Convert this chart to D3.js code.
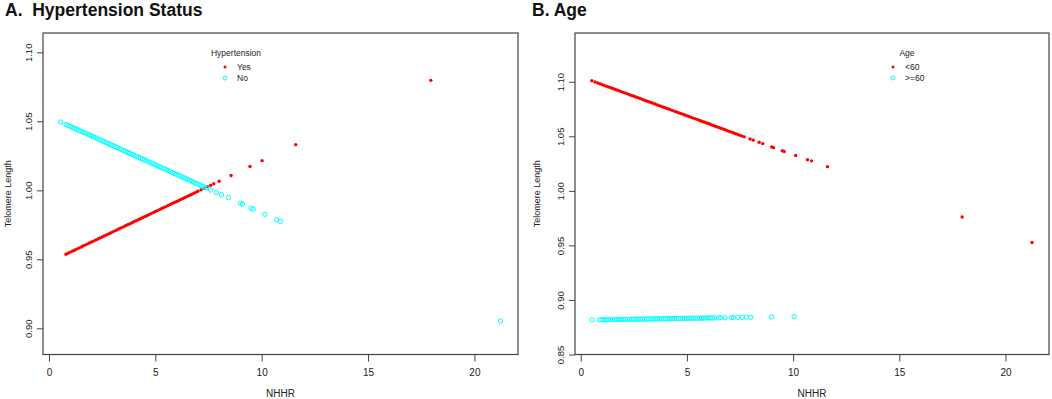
<!DOCTYPE html>
<html><head><meta charset="utf-8">
<script src="https://cdn.jsdelivr.net/npm/d3@7"></script>
<style>
html,body{margin:0;padding:0;background:#fff;}
svg{display:block;font-family:"Liberation Sans",Arial,sans-serif;}
</style></head>
<body>
<svg id="c" width="1052" height="399"></svg>
<script>
// ---------- DATA ----------
const xTicks = [0, 5, 10, 15, 20];
const yTicksA = [0.90, 0.95, 1.00, 1.05, 1.10];
const yTicksB = [0.85, 0.90, 0.95, 1.00, 1.05, 1.10];

// Panel A: Hypertension = Yes
const yesX = [0.8,0.9,1.0,1.1,1.2,1.3,1.4,1.5,1.6,1.7,1.8,1.9,2.0,2.1,2.2,2.3,2.4,2.5,2.6,2.7,2.8,2.9,3.0,3.1,3.2,3.3,3.4,3.5,3.6,3.7,3.8,3.9,4.0,4.1,4.2,4.3,4.4,4.5,4.6,4.7,4.8,4.9,5.0,5.1,5.2,5.3,5.4,5.5,5.6,5.7,5.8,5.9,6.0,6.1,6.2,6.3,6.4,6.5,6.6,6.7,6.8,6.9,7.0,7.15,7.3,7.45,7.6,7.75,8.0,8.56,9.45,10.02,11.6,17.95];
const yesY = [0.9537,0.9544,0.9552,0.9559,0.9566,0.9574,0.9581,0.9588,0.9596,0.9603,0.9610,0.9618,0.9625,0.9632,0.9640,0.9647,0.9654,0.9662,0.9669,0.9676,0.9684,0.9691,0.9699,0.9706,0.9713,0.9721,0.9728,0.9735,0.9743,0.9750,0.9757,0.9765,0.9772,0.9779,0.9787,0.9794,0.9801,0.9809,0.9816,0.9823,0.9831,0.9838,0.9846,0.9853,0.9860,0.9868,0.9875,0.9882,0.9890,0.9897,0.9904,0.9912,0.9919,0.9926,0.9934,0.9941,0.9948,0.9956,0.9963,0.9970,0.9978,0.9985,0.9993,1.0004,1.0015,1.0026,1.0037,1.0048,1.0066,1.0107,1.0173,1.0215,1.0331,1.0797];

// Panel A: Hypertension = No
const noX = [0.55,0.8,0.9,1.0,1.1,1.2,1.3,1.4,1.5,1.6,1.7,1.8,1.9,2.0,2.1,2.2,2.3,2.4,2.5,2.6,2.7,2.8,2.9,3.0,3.1,3.2,3.3,3.4,3.5,3.6,3.7,3.8,3.9,4.0,4.1,4.2,4.3,4.4,4.5,4.6,4.7,4.8,4.9,5.0,5.1,5.2,5.3,5.4,5.5,5.6,5.7,5.8,5.9,6.0,6.1,6.2,6.3,6.4,6.5,6.6,6.7,6.8,6.9,7.0,7.1,7.2,7.3,7.4,7.6,7.87,8.11,8.44,9.0,9.1,9.5,9.6,10.15,10.7,10.88,21.23];
const noY = [1.0495,1.0477,1.0470,1.0463,1.0456,1.0449,1.0442,1.0435,1.0428,1.0421,1.0415,1.0408,1.0401,1.0394,1.0387,1.0380,1.0373,1.0366,1.0359,1.0352,1.0345,1.0338,1.0331,1.0324,1.0317,1.0310,1.0303,1.0296,1.0289,1.0282,1.0275,1.0268,1.0261,1.0254,1.0247,1.0240,1.0233,1.0226,1.0219,1.0212,1.0205,1.0198,1.0191,1.0185,1.0178,1.0171,1.0164,1.0157,1.0150,1.0143,1.0136,1.0129,1.0122,1.0115,1.0108,1.0101,1.0094,1.0087,1.0080,1.0073,1.0066,1.0059,1.0052,1.0045,1.0038,1.0031,1.0024,1.0017,1.0003,0.9984,0.9968,0.9948,0.9906,0.9899,0.9871,0.9864,0.9826,0.9787,0.9775,0.9053];

// Panel B: Age < 60
const youngX = [0.52,0.67,0.8,0.9,1.0,1.1,1.2,1.3,1.4,1.5,1.6,1.7,1.8,1.9,2.0,2.1,2.2,2.3,2.4,2.5,2.6,2.7,2.8,2.9,3.0,3.1,3.2,3.3,3.4,3.5,3.6,3.7,3.8,3.9,4.0,4.1,4.2,4.3,4.4,4.5,4.6,4.7,4.8,4.9,5.0,5.1,5.2,5.3,5.4,5.5,5.6,5.7,5.8,5.9,6.0,6.1,6.2,6.3,6.4,6.5,6.6,6.7,6.8,6.9,7.0,7.1,7.2,7.3,7.4,7.5,7.6,7.7,7.97,8.12,8.4,8.57,8.99,9.08,9.49,9.58,10.12,10.68,10.87,11.62,17.96,21.25];
const youngY = [1.1009,1.0998,1.0989,1.0982,1.0974,1.0967,1.0960,1.0953,1.0946,1.0939,1.0932,1.0924,1.0917,1.0910,1.0903,1.0896,1.0889,1.0881,1.0874,1.0867,1.0860,1.0853,1.0846,1.0839,1.0831,1.0824,1.0817,1.0810,1.0803,1.0796,1.0788,1.0781,1.0774,1.0767,1.0760,1.0753,1.0746,1.0738,1.0731,1.0724,1.0717,1.0710,1.0703,1.0695,1.0688,1.0681,1.0674,1.0667,1.0660,1.0653,1.0645,1.0638,1.0631,1.0624,1.0617,1.0610,1.0602,1.0595,1.0588,1.0581,1.0574,1.0567,1.0560,1.0552,1.0545,1.0538,1.0531,1.0524,1.0517,1.0509,1.0502,1.0495,1.0476,1.0465,1.0445,1.0433,1.0403,1.0396,1.0367,1.0361,1.0325,1.0285,1.0275,1.0222,0.9761,0.9526];

// Panel B: Age >= 60
const oldX = [0.53,0.9,1.0,1.1,1.2,1.3,1.4,1.5,1.6,1.7,1.8,1.9,2.0,2.1,2.2,2.3,2.4,2.5,2.6,2.7,2.8,2.9,3.0,3.1,3.2,3.3,3.4,3.5,3.6,3.7,3.8,3.9,4.0,4.1,4.2,4.3,4.4,4.5,4.6,4.7,4.8,4.9,5.0,5.1,5.2,5.3,5.4,5.5,5.6,5.7,5.8,5.9,6.0,6.1,6.2,6.3,6.5,6.6,6.8,7.1,7.2,7.4,7.6,7.8,8.0,8.99,10.05];
const oldY = [0.8817,0.8818,0.8818,0.8819,0.8819,0.8819,0.8820,0.8820,0.8820,0.8821,0.8821,0.8821,0.8822,0.8822,0.8822,0.8823,0.8823,0.8823,0.8824,0.8824,0.8824,0.8825,0.8825,0.8825,0.8826,0.8826,0.8826,0.8827,0.8827,0.8827,0.8828,0.8828,0.8828,0.8829,0.8829,0.8829,0.8830,0.8830,0.8830,0.8831,0.8831,0.8831,0.8832,0.8832,0.8832,0.8833,0.8833,0.8833,0.8833,0.8834,0.8834,0.8834,0.8835,0.8835,0.8835,0.8836,0.8836,0.8837,0.8837,0.8838,0.8839,0.8839,0.8840,0.8841,0.8841,0.8845,0.8848];

const panels = [
  {title:"A.  Hypertension Status", titleX:5, legendTitle:"Hypertension", labels:["Yes","No"],
   s1x:yesX, s1y:yesY, s2x:noX, s2y:noY, yTicks:yTicksA,
   left:43, right:518, xDom:[-0.28,22.05], yDom:[0.881,1.114], legX:225, legTitleX:236, yTitleX:8},
  {title:"B. Age", titleX:532, legendTitle:"Age", labels:["<60",">=60"],
   s1x:youngX, s1y:youngY, s2x:oldX, s2y:oldY, yTicks:yTicksB,
   left:575, right:1049, xDom:[-0.27,22.05], yDom:[0.85,1.1447], legX:893, legTitleX:907, yTitleX:537}
];

const plotTop = 33, plotBottom = 354.5;
const RED = "#ff0000", CYAN = "#00ffff";
const svg = d3.select("#c");

panels.forEach(p => {
  const g = svg.append("g");
  const x = d3.scaleLinear().domain(p.xDom).range([p.left, p.right]);
  const y = d3.scaleLinear().domain(p.yDom).range([plotBottom, plotTop]);

  // title
  g.append("text").attr("x", p.titleX).attr("y", 16).attr("font-size", 17.5)
    .attr("font-weight", "bold").attr("fill", "#111").style("white-space", "pre").text(p.title);

  // x axis
  const xa = g.append("g").attr("transform", `translate(0,${plotBottom})`)
    .call(d3.axisBottom(x).tickValues(xTicks).tickSize(7).tickPadding(7).tickSizeOuter(0).tickFormat(d3.format("d")));
  xa.select(".domain").remove();
  xa.selectAll("line").attr("stroke", "#444");
  xa.selectAll("text").attr("font-size", 10).attr("fill", "#222").attr("font-family", "Liberation Sans, Arial, sans-serif");

  // y axis
  const ya = g.append("g").attr("transform", `translate(${p.left},0)`)
    .call(d3.axisLeft(y).tickValues(p.yTicks).tickSize(6).tickSizeOuter(0).tickFormat(d3.format(".2f")));
  ya.select(".domain").remove();
  ya.selectAll("line").attr("stroke", "#444");
  ya.selectAll("text").attr("font-size", 9.5).attr("fill", "#222")
    .attr("font-family", "Liberation Sans, Arial, sans-serif")
    .attr("text-anchor", "middle").attr("dy", null)
    .attr("transform", "translate(-15,0) rotate(-90)").attr("x", 0).attr("y", 3.5);

  // box
  g.append("rect").attr("x", p.left).attr("y", plotTop).attr("width", p.right - p.left)
    .attr("height", plotBottom - plotTop).attr("fill", "none").attr("stroke", "#444").attr("stroke-width", 1.2);

  // axis titles
  g.append("text").attr("x", (p.left + p.right) / 2).attr("y", 397).attr("text-anchor", "middle")
    .attr("font-size", 10).attr("fill", "#222").text("NHHR");
  g.append("text").attr("transform", `translate(${p.yTitleX + 3},${(plotTop + plotBottom) / 2}) rotate(-90)`)
    .attr("text-anchor", "middle").attr("font-size", 9).attr("fill", "#222").text("Telomere Length");

  // series 1 (red filled dots)
  g.append("g").selectAll("circle").data(d3.range(p.s1x.length)).join("circle")
    .attr("cx", i => x(p.s1x[i])).attr("cy", i => y(p.s1y[i])).attr("r", 1.7).attr("fill", RED);
  // series 2 (cyan open circles)
  g.append("g").selectAll("circle").data(d3.range(p.s2x.length)).join("circle")
    .attr("cx", i => x(p.s2x[i])).attr("cy", i => y(p.s2y[i])).attr("r", 2.2)
    .attr("fill", "none").attr("stroke", CYAN).attr("stroke-width", 1);

  // legend
  g.append("text").attr("x", p.legTitleX).attr("y", 56).attr("text-anchor", "middle")
    .attr("font-size", 8.5).attr("fill", "#222").text(p.legendTitle);
  g.append("circle").attr("cx", p.legX).attr("cy", 67).attr("r", 1.5).attr("fill", RED);
  g.append("circle").attr("cx", p.legX).attr("cy", 78).attr("r", 2).attr("fill", "none").attr("stroke", CYAN).attr("stroke-width", 1);
  g.append("text").attr("x", p.legX + 12).attr("y", 70).attr("font-size", 8.5).attr("fill", "#222").text(p.labels[0]);
  g.append("text").attr("x", p.legX + 12).attr("y", 81).attr("font-size", 8.5).attr("fill", "#222").text(p.labels[1]);
});
</script>
</body></html>
